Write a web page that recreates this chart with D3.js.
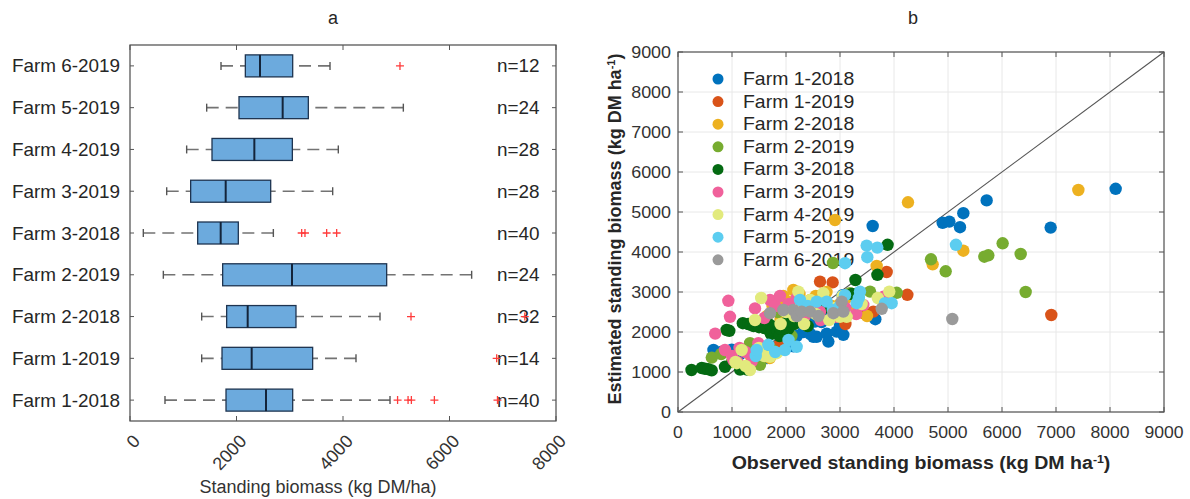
<!DOCTYPE html>
<html><head><meta charset="utf-8">
<script src="https://cdn.jsdelivr.net/npm/d3@7"></script>
<style>body{margin:0;background:#fff}svg{display:block;font-family:"Liberation Sans",Arial,sans-serif}</style>
</head><body>
<svg id="c" width="1190" height="499"></svg>
<script>
// ---------- Panel a: box plot data (top to bottom) ----------
const categories = ["Farm 6-2019","Farm 5-2019","Farm 4-2019","Farm 3-2019","Farm 3-2018","Farm 2-2019","Farm 2-2018","Farm 1-2019","Farm 1-2018"];
const boxMin = [1709,1440,1064,689,250,626,1346,1346,657];
const boxQ1  = [2166,2047,1540,1139,1271,1740,1815,1728,1803];
const boxMed = [2441,2867,2335,1797,1703,3042,2210,2285,2554];
const boxQ3  = [3055,3349,3049,2642,2034,4820,3117,3430,3055];
const boxMax = [3756,5133,3912,3806,2692,6416,4695,4244,4883];
const boxOutliers = [[5070],[],[],[],[3224,3286,3693,3881],[],[5277,7414],[6886],[5025,5222,5284,5716,6901]];
const nLabels = ["n=12","n=24","n=28","n=28","n=40","n=24","n=32","n=14","n=40"];
const xTicksA = [0,2000,4000,6000,8000];

// ---------- Panel b: scatter data [observed, estimated] ----------
const seriesNames = ["Farm 1-2018","Farm 1-2019","Farm 2-2018","Farm 2-2019","Farm 3-2018","Farm 3-2019","Farm 4-2019","Farm 5-2019","Farm 6-2019"];
const seriesColors = ["#0072BD","#D95319","#EDB120","#77AC30","#046a12","#f0619b","#e2ea7d","#5ccdf0","#9a9a9a"];
const farm1_2018 = [[657,1550],[800,1500],[994,1560],[1150,1450],[1300,1500],[1450,1450],[1550,1550],[1650,1350],[1750,1500],[1803,1600],
 [1900,1750],[2012,1800],[2136,1640],[2200,1900],[2321,2000],[2352,2260],[2400,2100],[2450,1950],[2506,1880],[2537,2260],
 [2568,1880],[2660,2250],[2753,1960],[2784,1760],[2815,2420],[2938,2010],[3000,2150],[3050,2920],[3055,2200],[3062,1930],
 [3100,2350],[3605,4650],[3654,2320],[4901,4730],[5025,4760],[5222,4620],[5284,4970],[5716,5290],[6901,4610],[8105,5580]];
const farm1_2019 = [[1346,1450],[1650,1600],[1889,1700],[2000,1800],[2270,2450],[2300,2250],[2630,3260],[2864,3240],[3100,2200],[3432,2470],[3617,2510],[3864,3500],[4247,2930],[6913,2425]];
const farm2_2018 = [[1346,1400],[1450,2250],[1550,1500],[1650,2400],[1700,1350],[1750,2650],[1815,2550],[1850,2800],[1900,2300],[1950,2900],
 [2000,2600],[2050,2750],[2136,3050],[2200,2500],[2210,2850],[2250,2950],[2300,2700],[2450,2800],[2550,2900],[2650,2600],
 [2750,3000],[2850,2650],[2907,4800],[3000,2700],[3117,2850],[3300,2600],[3500,2400],[3679,3650],[4259,5242],[4716,3692],[5284,4033],[7414,5550]];
const farm2_2019 = [[626,1360],[800,1450],[1000,1250],[1333,1720],[1400,1450],[1518,1180],[1740,1550],[1850,2500],[2100,1900],[2400,2700],
 [2700,2650],[2870,3725],[3042,2600],[3185,2970],[3556,3010],[4050,2980],[4685,3817],[3800,2850],[4957,3517],[5673,3883],[5747,3917],[6012,4217],[6346,3950],[6438,3000]];
const farm3_2018 = [[250,1050],[440,1100],[500,1080],[560,1070],[624,1040],[870,1130],[900,2050],[950,2030],[1150,1060],[1200,2220],
 [1280,1060],[1300,2200],[1350,2180],[1400,2150],[1450,2200],[1500,2120],[1550,2170],[1600,2100],[1650,2080],[1700,2180],
 [1720,1950],[1750,2050],[1800,2120],[1850,2000],[1880,1900],[1900,2080],[1950,2200],[1980,2150],[2000,2230],[2030,2060],
 [2050,2100],[2100,2300],[2150,2200],[2250,2250],[2400,2150],[2692,2600],[3224,2950],[3286,3300],[3693,3430],[3881,4180]];
const farm3_2019 = [[689,1960],[870,1550],[932,2780],[963,2380],[1000,1400],[1024,1300],[1100,1250],[1139,1600],[1250,1500],[1364,1260],
 [1426,2590],[1488,1720],[1600,2350],[1704,2800],[1797,2650],[1889,2900],[1950,2550],[2050,2700],[2200,2850],[2350,2400],
 [2450,2750],[2630,2510],[2642,2300],[2938,2380],[3100,2600],[3300,2450],[3432,2675],[3806,2880]];
const farm4_2019 = [[1064,1250],[1087,1220],[1179,1550],[1250,1150],[1333,1050],[1426,2300],[1500,1600],[1540,2850],[1600,1400],[1704,1380],
 [1828,1470],[1900,2200],[2000,2500],[2150,2400],[2228,3010],[2300,2650],[2335,2200],[2450,2800],[2550,2450],[2691,2970],
 [2800,2300],[2900,2600],[3000,2380],[3049,2900],[3123,2380],[3400,2700],[3700,2850],[3913,3010]];
const farm5_2019 = [[1440,1400],[1457,1550],[1673,1680],[1800,1500],[1981,1550],[2047,1800],[2198,1630],[2259,2800],[2400,2650],[2568,2760],
 [2753,2760],[2867,2550],[3000,2650],[3093,2920],[3093,3720],[3309,2720],[3349,2850],[3370,3010],[3494,4160],[3506,3870],[3691,4110],[3833,2720],[3957,2720],[5148,4180]];
const farm6_2019 = [[1704,2470],[1951,2550],[2136,2550],[2200,2400],[2290,2510],[2444,2510],[2600,2400],[2877,2470],[3031,2760],[3062,2510],[3772,2580],[5080,2325]];
const seriesData = [farm1_2018,farm1_2019,farm2_2018,farm2_2019,farm3_2018,farm3_2019,farm4_2019,farm5_2019,farm6_2019];
const ticksB = [0,1000,2000,3000,4000,5000,6000,7000,8000,9000];

const svg = d3.select("#c");
const TXT = "#262626";

function label(parent, x, y, str, o = {}) {
  const g = parent.append("g").attr("transform",
    `translate(${x},${y})${o.rotate ? ` rotate(${o.rotate})` : ""} scale(${o.sx || 1},1)`);
  const t = g.append("text").attr("text-anchor", o.anchor || "start")
    .attr("font-size", o.size || 16).attr("fill", o.fill || TXT)
    .attr("font-weight", o.weight || "normal");
  if (str !== null) t.text(str);
  return t;
}

// ================= Panel a =================
const xA = d3.scaleLinear().domain([0, 8000]).range([130, 556]);
const yA = d3.scaleBand().domain(categories).range([45, 421]);
const gA = svg.append("g");
const bh = 22;
const rowC = c => yA(c) + yA.bandwidth() / 2;

label(gA, 333, 24, "a", {size: 18, anchor: "middle"});

gA.append("rect").attr("x", 130).attr("y", 45).attr("width", 426).attr("height", 376)
  .attr("fill", "none").attr("stroke", "#4a4a4a").attr("stroke-width", 1.2);
xTicksA.forEach(t => {
  gA.append("line").attr("x1", xA(t)).attr("x2", xA(t)).attr("y1", 421).attr("y2", 416).attr("stroke", "#555");
  gA.append("line").attr("x1", xA(t)).attr("x2", xA(t)).attr("y1", 45).attr("y2", 50).attr("stroke", "#555");
  label(gA, xA(t) + 11, 442, String(t), {size: 18, anchor: "end", rotate: -47, fill: "#333"});
});
categories.forEach((c, i) => {
  const cy = rowC(c);
  gA.append("line").attr("x1", 130).attr("x2", 134).attr("y1", cy).attr("y2", cy).attr("stroke", "#555");
  gA.append("line").attr("x1", 552).attr("x2", 556).attr("y1", cy).attr("y2", cy).attr("stroke", "#555");
  label(gA, 120, cy + 6.5, c, {size: 18, anchor: "end", sx: 1.05});
  label(gA, 497, cy + 6.5, nLabels[i], {size: 18, sx: 1.05});

  [[boxMin[i], boxQ1[i]], [boxQ3[i], boxMax[i]]].forEach(([a, b], k) => {
    const from = k === 0 ? a : b, to = k === 0 ? b : a;
    gA.append("line").attr("x1", xA(from)).attr("x2", xA(to)).attr("y1", cy).attr("y2", cy)
      .attr("stroke", "#737373").attr("stroke-width", 1.6).attr("stroke-dasharray", "12,7");
    gA.append("line").attr("x1", xA(from)).attr("x2", xA(from)).attr("y1", cy - 4).attr("y2", cy + 4)
      .attr("stroke", "#555").attr("stroke-width", 1.4);
  });
  gA.append("rect").attr("x", xA(boxQ1[i])).attr("y", cy - bh / 2)
    .attr("width", xA(boxQ3[i]) - xA(boxQ1[i])).attr("height", bh)
    .attr("fill", "#6caadd").attr("stroke", "#1e3450").attr("stroke-width", 1.3);
  gA.append("line").attr("x1", xA(boxMed[i])).attr("x2", xA(boxMed[i]))
    .attr("y1", cy - bh / 2).attr("y2", cy + bh / 2).attr("stroke", "#13243a").attr("stroke-width", 2);
  boxOutliers[i].forEach(v => {
    const ox = xA(v);
    gA.append("path").attr("d", `M${ox - 4},${cy}H${ox + 4}M${ox},${cy - 4}V${cy + 4}`)
      .attr("stroke", "#ff3b3b").attr("stroke-width", 1.3).attr("fill", "none");
  });
});
label(gA, 318, 493, "Standing biomass (kg DM/ha)", {size: 18, anchor: "middle", fill: "#333"});

// ================= Panel b =================
const xB = d3.scaleLinear().domain([0, 9000]).range([678, 1164]);
const yB = d3.scaleLinear().domain([0, 9000]).range([412, 52]);
const gB = svg.append("g");
label(gB, 913, 24, "b", {size: 18, anchor: "middle"});

ticksB.forEach(t => {
  gB.append("line").attr("x1", xB(t)).attr("x2", xB(t)).attr("y1", 52).attr("y2", 412).attr("stroke", "#e8e8e8");
  gB.append("line").attr("x1", 678).attr("x2", 1164).attr("y1", yB(t)).attr("y2", yB(t)).attr("stroke", "#e8e8e8");
});
gB.append("rect").attr("x", 678).attr("y", 52).attr("width", 486).attr("height", 360)
  .attr("fill", "none").attr("stroke", "#555").attr("stroke-width", 1.2);
ticksB.forEach(t => {
  gB.append("line").attr("x1", xB(t)).attr("x2", xB(t)).attr("y1", 412).attr("y2", 407).attr("stroke", "#555");
  gB.append("line").attr("x1", xB(t)).attr("x2", xB(t)).attr("y1", 52).attr("y2", 57).attr("stroke", "#555");
  gB.append("line").attr("x1", 678).attr("x2", 683).attr("y1", yB(t)).attr("y2", yB(t)).attr("stroke", "#555");
  gB.append("line").attr("x1", 1164).attr("x2", 1159).attr("y1", yB(t)).attr("y2", yB(t)).attr("stroke", "#555");
  label(gB, xB(t), 438, String(t), {size: 16, anchor: "middle", sx: 1.1, fill: "#333"});
  label(gB, 671, yB(t) + 6, String(t), {size: 16, anchor: "end", sx: 1.12, fill: "#333"});
});

seriesNames.forEach((s, i) => {
  const ly = 79 + i * 22.6;
  gB.append("circle").attr("cx", 718).attr("cy", ly).attr("r", 5.5).attr("fill", seriesColors[i]);
  label(gB, 743, ly + 6, s, {size: 18, sx: 1.08});
});

gB.append("line").attr("x1", xB(0)).attr("y1", yB(0)).attr("x2", xB(9000)).attr("y2", yB(9000))
  .attr("stroke", "#555").attr("stroke-width", 1.1);

seriesData.forEach((arr, i) => {
  gB.append("g").selectAll("circle").data(arr).join("circle")
    .attr("cx", d => xB(d[0])).attr("cy", d => yB(d[1])).attr("r", 6.2)
    .attr("fill", seriesColors[i]);
});

const xt = label(gB, 921, 469, null, {size: 17.5, anchor: "middle", weight: "bold", sx: 1.12});
xt.append("tspan").text("Observed standing biomass (kg DM ha");
xt.append("tspan").attr("baseline-shift", "super").attr("font-size", 11).text("-1");
xt.append("tspan").text(")");
const yt = label(gB, 621, 229, null, {size: 18, anchor: "middle", weight: "bold", rotate: -90});
yt.append("tspan").text("Estimated standing biomass (kg DM ha");
yt.append("tspan").attr("baseline-shift", "super").attr("font-size", 11).text("-1");
yt.append("tspan").text(")");
</script>
</body></html>
